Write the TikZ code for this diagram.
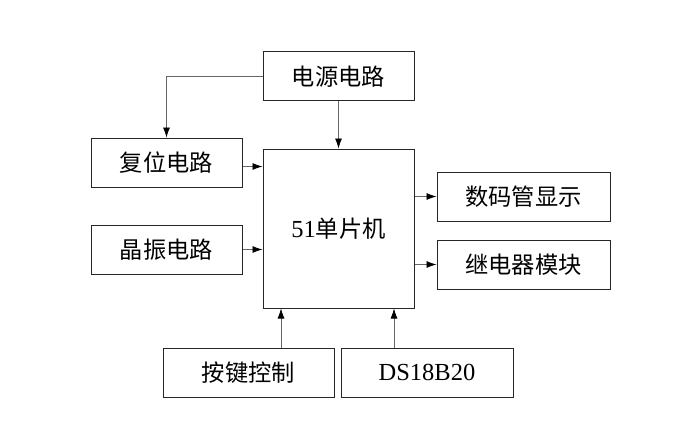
\documentclass[tikz,border=0pt]{standalone}
\usepackage{fontspec}
\setmainfont{Liberation Serif}
\newfontfamily\cjk{Noto Sans CJK SC}[Scale=0.95]
\usetikzlibrary{arrows.meta}
\begin{document}
\begin{tikzpicture}[x=1pt,y=-1pt,
  box/.style={draw=black!85, line width=1pt, inner sep=0pt, minimum height=49pt, font=\fontsize{24.5}{28}\selectfont},
  arr/.style={-{Latex[length=10pt,width=7pt,fill=black,color=black]}, line width=0.7pt, draw=black!60}]
\useasboundingbox[fill=white] (0,0) rectangle (692,425);
\node[box, minimum width=151pt] (pwr) at (338.5,76.5) {\cjk 电源电路};
\node[box, minimum width=151pt] (rst) at (166.5,162.5) {\cjk 复位电路};
\node[box, minimum width=151pt] (osc) at (166.5,249.5) {\cjk 晶振电路};
\node[box, minimum width=151pt, minimum height=159pt] (mcu) at (338.5,228.5) {51{\cjk 单片机}};
\node[box, minimum width=173pt] (seg) at (523.5,196.5) {\cjk 数码管显示};
\node[box, minimum width=173pt] (rly) at (523.5,264.5) {\cjk 继电器模块};
\node[box, minimum width=171pt] (key) at (248.5,372.5) {\cjk 按键控制};
\node[box, minimum width=172pt] (ds) at (427,372.5) {DS18B20};
\draw[arr] (pwr.west) -| (rst.north);
\draw[arr] (pwr.south) -- (mcu.north);
\draw[arr] ([yshift=-4pt]rst.east) -- ([yshift=-4pt]rst.east -| mcu.west);
\draw[arr] (osc.east) -- (osc.east -| mcu.west);
\draw[arr] (seg.west -| mcu.east) -- (seg.west);
\draw[arr] (rly.west -| mcu.east) -- (rly.west);
\draw[arr] ([xshift=32.5pt]key.north) -- ([xshift=32.5pt]key.north |- mcu.south);
\draw[arr] ([xshift=-33pt]ds.north) -- ([xshift=-33pt]ds.north |- mcu.south);
\end{tikzpicture}
\end{document}
